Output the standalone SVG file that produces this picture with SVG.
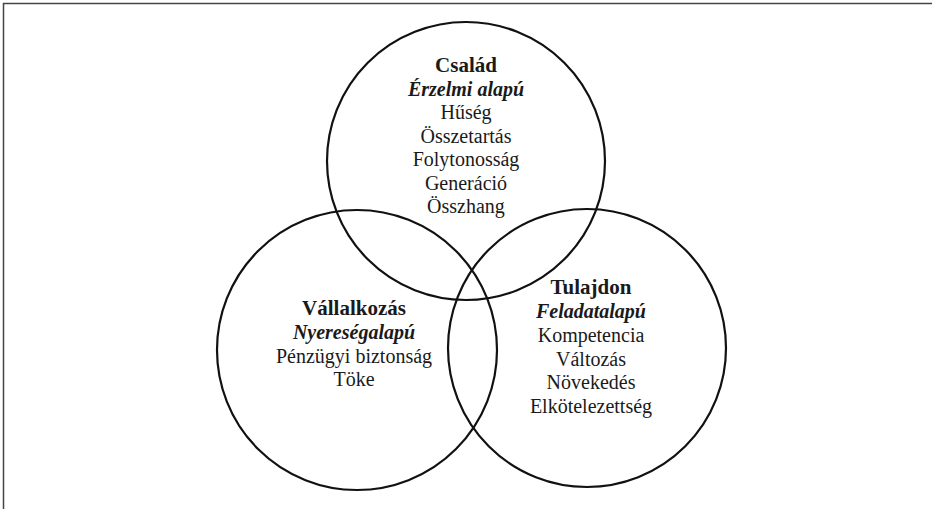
<svg xmlns="http://www.w3.org/2000/svg" width="932" height="509" viewBox="0 0 932 509">
<style>
.frame{fill:none;stroke:#444;stroke-width:1.5}
.c{fill:none;stroke:#111;stroke-width:2.2}
text{font-family:"Liberation Serif","Times New Roman",serif;font-size:20px;fill:#1a1a1a;text-anchor:middle}
.t{font-weight:bold;font-size:21px}
.s{font-weight:bold;font-style:italic}
</style>
<rect width="932" height="509" fill="#fff"/>
<path class="frame" d="M3.5,509 V3.5 H932"/>
<g id="csalad">
<circle class="c" cx="466" cy="161" r="139"/>
<text x="466" y="72" class="t">Család</text>
<text x="466" y="95.5" class="s">Érzelmi alapú</text>
<text x="466" y="119">Hűség</text>
<text x="466" y="142.5">Összetartás</text>
<text x="466" y="166">Folytonosság</text>
<text x="466" y="189.5">Generáció</text>
<text x="466" y="213">Összhang</text>
</g>
<g id="vallalkozas">
<circle class="c" cx="357" cy="350" r="140"/>
<text x="354" y="315" class="t">Vállalkozás</text>
<text x="354" y="338.5" class="s">Nyereségalapú</text>
<text x="354" y="362.5">Pénzügyi biztonság</text>
<text x="354" y="386">Töke</text>
</g>
<g id="tulajdon">
<circle class="c" cx="587" cy="348" r="139"/>
<text x="591" y="294" class="t">Tulajdon</text>
<text x="591" y="318" class="s">Feladatalapú</text>
<text x="591" y="341.5">Kompetencia</text>
<text x="591" y="365.5">Változás</text>
<text x="591" y="389">Növekedés</text>
<text x="591" y="412.5">Elkötelezettség</text>
</g>
<g id="connectors"></g>
</svg>
